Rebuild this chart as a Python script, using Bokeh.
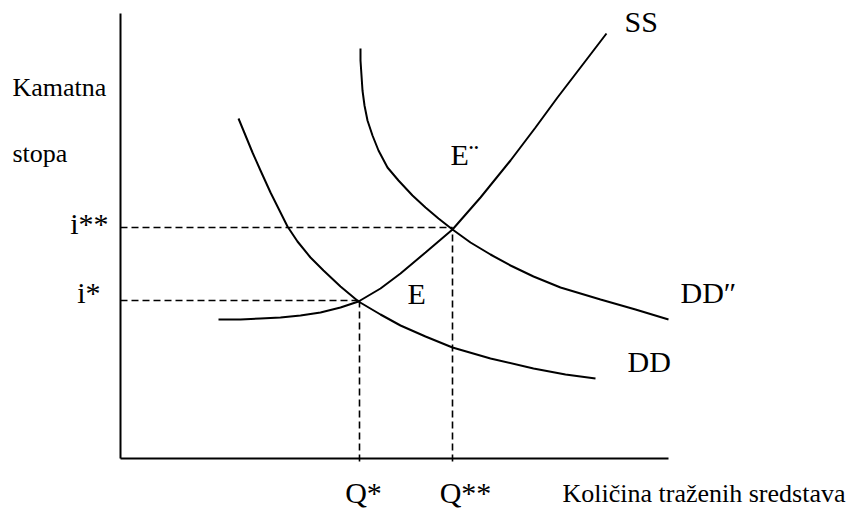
from bokeh.plotting import figure
from bokeh.models import Range1d
from bokeh.core.properties import value
from bokeh.embed import file_html
from bokeh.resources import INLINE

# ---- data (quantity x, interest rate y; origin at axis corner) ----
ss_x = [98, 120, 140, 160, 180, 200, 220, 238, 260, 280, 305, 332, 360, 390, 415, 437, 460, 486]
ss_y = [139, 139, 140, 141, 143, 146, 151, 157, 170, 185, 206, 229, 261, 298, 331, 361, 391, 425]

dd_x = [118, 125, 132, 140, 150, 160, 167, 177, 190, 203, 220, 238, 260, 280, 305, 332, 370, 413, 445, 475]
dd_y = [340, 323, 306, 288, 266, 246, 232, 217, 201, 188, 172, 157, 144, 133, 122, 111, 100, 90, 84, 80]

dd2_x = [240, 240, 241, 242, 244, 247, 252, 258, 267, 278, 292, 305, 318, 332, 350, 370, 390, 413, 440, 480, 515, 548]
dd2_y = [410, 398, 383, 368, 353, 338, 323, 308, 291, 278, 263, 251, 240, 229, 216, 204, 193, 182, 171, 159, 149, 139]

q_star, q_2star = 239, 332
i_star, i_2star = 158, 231
axis_x_max, axis_y_max = 548, 445

FONT = "Liberation Serif"
DY = 10  # baseline correction for text placement

p = figure(width=848, height=513, output_backend="svg", toolbar_location=None,
           x_range=Range1d(-120, 728), y_range=Range1d(-55, 458),
           min_border=0, min_border_left=0, min_border_right=0,
           min_border_top=0, min_border_bottom=0)
p.axis.visible = False
p.grid.visible = False
p.outline_line_color = None
p.background_fill_color = "white"
p.border_fill_color = "white"

# axes
p.line([0, 0], [0, axis_y_max], line_color="black", line_width=2)
p.line([0, axis_x_max], [0, 0], line_color="black", line_width=2)

# dashed guides
dash = dict(line_color="black", line_width=1.6, line_dash="7 4")
p.line([0, q_star], [i_star, i_star], **dash)
p.line([0, q_2star], [i_2star, i_2star], **dash)
p.line([q_star, q_star], [-3, i_star], **dash)
p.line([q_2star, q_2star], [-3, i_2star], **dash)

# curves
p.line(ss_x, ss_y, line_color="black", line_width=2)
p.line(dd_x, dd_y, line_color="black", line_width=2)
p.line(dd2_x, dd2_y, line_color="black", line_width=2)

def txt(x, y, s, size, align="left"):
    p.text(x=[x], y=[y + DY], text=[s], text_font=value(FONT), text_font_size=f"{size}px",
           text_color="black", text_align=align, text_baseline="alphabetic")

# axis titles
txt(-108, 361, "Kamatna", 26)
txt(-108, 295, "stopa", 26)
txt(442, -45, "Količina traženih sredstava", 26)

# tick-like labels
txt(-12, 225, "i**", 30, "right")
txt(-20, 156, "i*", 30, "right")
txt(q_star + 4, -44, "Q*", 30, "center")
txt(q_2star + 13, -44, "Q**", 30, "center")

# curve labels
txt(504, 427, "SS", 30)
txt(560, 156, "DD″", 30)
txt(507, 87, "DD", 30)
txt(330, 294, "E¨", 30)
txt(287, 155, "E", 30)

open("out.html", "w").write(file_html(p, INLINE))
